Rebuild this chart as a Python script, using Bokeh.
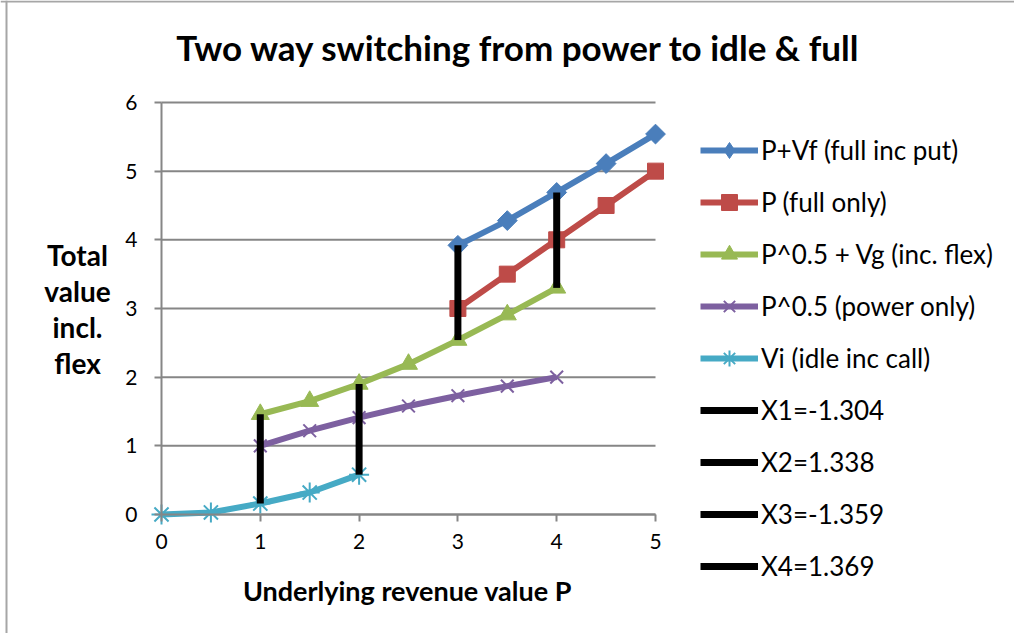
import math
from bokeh.plotting import figure
from bokeh.models import Range1d, Label, Legend, LegendItem, FixedTicker, Span
from bokeh.embed import file_html
from bokeh.resources import INLINE

# ---- data ----
x_full = [3, 3.5, 4, 4.5, 5]
p_vf = [3.92, 4.28, 4.69, 5.11, 5.54]
p_full = [3, 3.5, 4, 4.5, 5]
x_power = [1, 1.5, 2, 2.5, 3, 3.5, 4]
p_vg = [1.46, 1.65, 1.90, 2.19, 2.54, 2.91, 3.30]
p_power = [1, 1.22, 1.41, 1.58, 1.73, 1.87, 2.0]
x_idle = [0, 0.5, 1, 1.5, 2]
v_idle = [0, 0.03, 0.16, 0.32, 0.58]
switch_names = ["X1=-1.304", "X2=1.338", "X3=-1.359", "X4=1.369"]
switch_x = [1, 2, 3, 4]
switch_lo = [0.16, 0.58, 2.54, 3.30]
switch_hi = [1.46, 1.90, 3.92, 4.69]
y_ticks = [0, 1, 2, 3, 4, 5, 6]
x_ticks = [0, 1, 2, 3, 4, 5]

FONT = "Lato"

W, H = 1014, 633
X0, PXX = 161.0, 98.8      # pixel of x=0, px per unit
Y0, PXY = 514.0, 68.67     # pixel of y=0, px per unit

def dx(px):
    return (px - X0) / PXX

def dy(py):
    return (Y0 - py) / PXY

p = figure(frame_width=W, frame_height=H,
           min_border_left=0, min_border_top=0,
           min_border_right=0, min_border_bottom=0,
           x_range=Range1d(dx(0), dx(W)), y_range=Range1d(dy(H), dy(0)),
           output_backend="svg", toolbar_location=None)
p.outline_line_color = None
p.xgrid.visible = False
p.ygrid.visible = False

# chart-area border (left and top edges visible in the reference)
p.add_layout(Span(location=dx(6), dimension="height", line_color="#A6A6A6", line_width=2))
p.add_layout(Span(location=dy(1), dimension="width", line_color="#A6A6A6", line_width=2))

# horizontal gridlines
p.segment(x0=[0] * len(y_ticks), x1=[5] * len(y_ticks), y0=y_ticks, y1=y_ticks,
          line_color="#868686", line_width=2)

for ax in (p.xaxis[0], p.yaxis[0]):
    ax.axis_line_color = "#868686"
    ax.axis_line_width = 2
    ax.major_tick_line_color = "#868686"
    ax.major_tick_line_width = 2
    ax.major_tick_out = 7
    ax.major_tick_in = 0
    ax.minor_tick_line_color = None
    ax.major_label_text_font = FONT
    ax.major_label_text_font_size = "21px"
    ax.major_label_text_color = "#000000"
p.xaxis[0].ticker = FixedTicker(ticks=x_ticks)
p.yaxis[0].ticker = FixedTicker(ticks=y_ticks)
p.xaxis[0].fixed_location = 0
p.yaxis[0].fixed_location = 0
p.xaxis[0].bounds = (0, 5)
p.yaxis[0].bounds = (0, 6)
p.xaxis[0].major_label_standoff = 12
p.yaxis[0].major_label_standoff = 17

LW = 6
BLUE, RED, GREEN, PURPLE, CYAN = "#4A7EBB", "#BE4B48", "#98B954", "#7D60A0", "#46AAC5"
r1l = p.line(x_full, p_vf, line_color=BLUE, line_width=LW)
p.scatter(x_full, p_vf, marker="square", angle=math.pi / 4, size=14, color=BLUE)
# legend-only proxy glyph for the diamond symbol
r1m = p.scatter([float("nan")], [float("nan")], marker="diamond", size=22, color=BLUE)
r2l = p.line(x_full, p_full, line_color=RED, line_width=LW)
r2m = p.scatter(x_full, p_full, marker="square", size=16, color=RED)
r3l = p.line(x_power, p_vg, line_color=GREEN, line_width=LW)
r3m = p.scatter(x_power, p_vg, marker="triangle", size=18, color=GREEN)
r4l = p.line(x_power, p_power, line_color=PURPLE, line_width=LW)
r4m = p.scatter(x_power, p_power, marker="x", size=18, line_color=PURPLE, line_width=2)
r5l = p.line(x_idle, v_idle, line_color=CYAN, line_width=LW)
r5m = p.scatter(x_idle, v_idle, marker="asterisk", size=20, line_color=CYAN, line_width=2)

items = [
    LegendItem(label="P+Vf (full inc put)", renderers=[r1l, r1m]),
    LegendItem(label="P (full only)", renderers=[r2l, r2m]),
    LegendItem(label="P^0.5 + Vg (inc. flex)", renderers=[r3l, r3m]),
    LegendItem(label="P^0.5 (power only)", renderers=[r4l, r4m]),
    LegendItem(label="Vi (idle inc call)", renderers=[r5l, r5m]),
]
for name, sx, lo, hi in zip(switch_names, switch_x, switch_lo, switch_hi):
    r = p.line([sx, sx], [lo, hi], line_color="#000000", line_width=7)
    items.append(LegendItem(label=name, renderers=[r]))

ROW = 40
legend = Legend(items=items, location=(700, H - (566 + ROW // 2)))
legend.padding = 0
legend.margin = 0
legend.border_line_color = None
legend.background_fill_alpha = 0
legend.glyph_width = 58
legend.glyph_height = ROW
legend.label_height = ROW
legend.spacing = 52 - ROW
legend.label_standoff = 3
legend.label_text_font = FONT
legend.label_text_font_size = "26px"
legend.label_text_color = "#000000"
p.add_layout(legend, "center")

def lab(px, py, text, size, bold=True):
    p.add_layout(Label(x=dx(px), y=dy(py), text=text, text_font=FONT, text_font_size=size,
                       text_font_style="bold" if bold else "normal",
                       text_align="center", text_baseline="middle", text_color="#000000"))

lab(518, 46, "Two way switching from power to idle & full", "35px")
lab(77, 254, "Total", "28px")
lab(77, 290, "value", "28px")
lab(77, 326, "incl.", "28px")
lab(77, 362, "flex", "28px")
lab(407, 590, "Underlying revenue value P", "27px")

open("out.html", "w").write(file_html(p, INLINE))
